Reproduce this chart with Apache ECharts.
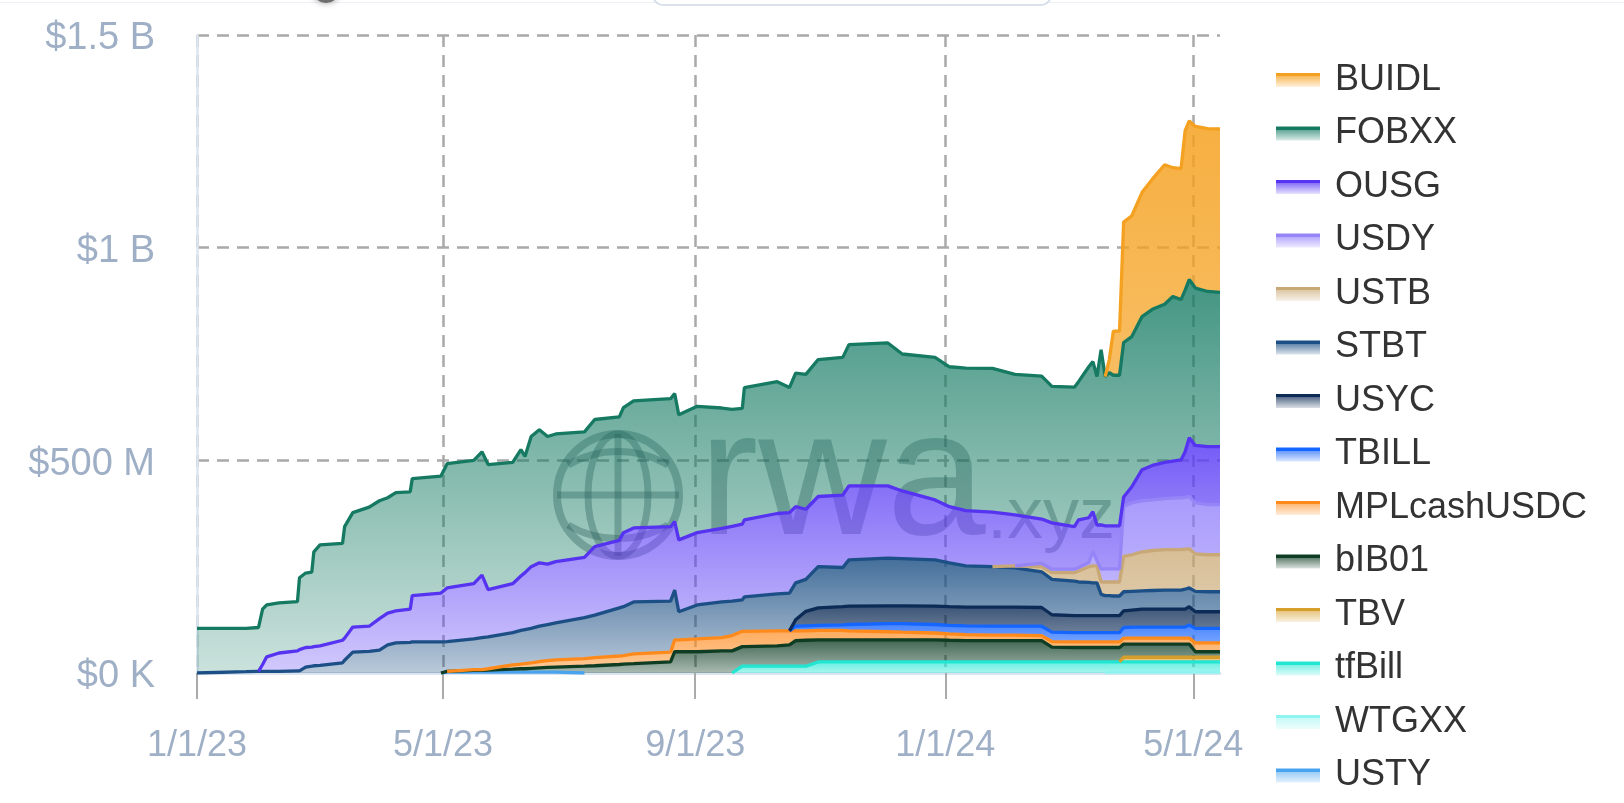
<!DOCTYPE html>
<html>
<head>
<meta charset="utf-8">
<script src="https://cdn.jsdelivr.net/npm/echarts/dist/echarts.min.js"></script>
<style>html,body{margin:0;padding:0;background:#fff;}#c{width:1624px;height:803px;}</style>
</head>
<body>
<div id="c"></div>
<script>
const _ = null;
const dates = ['2023-01-01','2023-01-25','2023-01-31','2023-02-02','2023-02-04','2023-02-10','2023-02-19','2023-02-20','2023-02-23','2023-02-26',
 '2023-02-27','2023-03-02','2023-03-13','2023-03-14','2023-03-18','2023-03-26','2023-03-31','2023-04-04','2023-04-08','2023-04-15',
 '2023-04-16','2023-04-30','2023-05-03','2023-05-16','2023-05-20','2023-05-23','2023-06-04','2023-06-08','2023-06-10','2023-06-13',
 '2023-06-17','2023-06-21','2023-06-25','2023-07-09','2023-07-14','2023-07-26','2023-07-28','2023-08-02','2023-08-20','2023-08-22',
 '2023-08-24','2023-09-02','2023-09-14','2023-09-19','2023-09-24','2023-09-25','2023-10-11','2023-10-17','2023-10-20','2023-10-25',
 '2023-10-31','2023-11-12','2023-11-15','2023-12-04','2023-12-11','2023-12-27','2024-01-03','2024-01-11','2024-01-24','2024-02-04',
 '2024-02-17','2024-02-22','2024-03-04','2024-03-06','2024-03-11','2024-03-13','2024-03-15','2024-03-17','2024-03-19','2024-03-21',
 '2024-03-23','2024-03-26','2024-03-28','2024-04-01','2024-04-06','2024-04-11','2024-04-17','2024-04-21','2024-04-25','2024-04-27',
 '2024-04-29','2024-05-02','2024-05-08','2024-05-14'];

// values in $ millions (null = not yet issued)
const USTY = [_,_,_,_,_,_,_,_,_,_, _,_,_,_,_,_,_,_,_,_, _,0,2,2,2,2,2,2,2,2, 2,2,2,0,_,_,_,_,_,_,
 _,_,_,_,_,_,_,_,_,_, _,_,_,_,_,_,_,_,_,_, _,_,_,_,_,_,_,_,_,_, _,_,_,_,_,_,_,_,_,_, _,_,_,_];
const WTGXX = [_,_,_,_,_,_,_,_,_,_, _,_,_,_,_,_,_,_,_,_, _,_,_,_,_,_,_,_,_,_, _,_,_,_,_,_,_,_,_,_,
 _,_,_,_,_,_,_,_,_,_, _,_,_,_,_,_,_,_,_,_, _,_,_,_,_,_,_,_,0,2, 2,2,2,2,2,2,2,2,2,2, 2,2,2,2];
const tfBill = [_,_,_,_,_,_,_,_,_,_, _,_,_,_,_,_,_,_,_,_, _,_,_,_,_,_,_,_,_,_, _,_,_,_,_,_,_,_,_,_,
 _,_,_,0,16,16,16,16,16,16, 26,26,26,26,26,26,26,26,26,26, 26,26,26,26,26,26,26,26,26,24, 24,24,24,24,24,24,24,24,24,24, 24,24,24,24];
const TBV = [_,_,_,_,_,_,_,_,_,_, _,_,_,_,_,_,_,_,_,_, _,_,_,_,_,_,_,_,_,_, _,_,_,_,_,_,_,_,_,_,
 _,_,_,_,_,_,_,_,_,_, _,_,_,_,_,_,_,_,_,_, _,_,_,_,_,_,_,_,_,_, _,0,11,11,11,11,11,11,11,11, 11,11,11,11];
const bIB01 = [_,_,_,_,_,_,_,_,_,_, _,_,_,_,_,_,_,_,_,_, _,0,2,4,4,5,7,8,8,9, 10,11,12,16,17,20,21,22,26,50,
 50,50,52,52,46,46,48,50,60,61, 52,52,52,52,52,52,51,50,50,50, 50,35,34,34,34,34,34,34,34,34, 34,34,31,31,31,31,31,31,31,31, 31,13,13,13];
const MPLcashUSDC = [_,_,_,_,_,_,_,_,_,_, _,_,_,_,_,_,_,_,_,_, _,_,0,2,2,3,10,11,12,13, 15,16,17,18,19,20,20,23,23,28,
 28,30,31,36,36,36,35,33,23,22, 22,22,21,19,18,16,15,14,13,13, 12,13,13,13,13,13,13,13,13,13, 13,13,14,14,14,14,14,14,14,14, 14,21,21,21];
const TBILL = [_,_,_,_,_,_,_,_,_,_, _,_,_,_,_,_,_,_,_,_, _,_,_,_,_,_,_,_,_,_, _,_,_,_,_,_,_,_,_,_,
 _,_,_,_,_,_,_,0,11,12, 12,13,15,19,20,20,20,21,21,21, 22,22,22,22,22,22,22,22,22,22, 22,22,25,26,26,26,26,26,26,26, 31,34,34,34];
const USYC = [_,_,_,_,_,_,_,_,_,_, _,_,_,_,_,_,_,_,_,_, _,_,_,_,_,_,_,_,_,_, _,_,_,_,_,_,_,_,_,_,
 _,_,_,_,_,_,_,0,15,34, 41,43,43,42,42,43,44,44,45,45, 44,41,40,40,40,40,40,40,40,40, 40,40,39,40,42,42,42,42,42,42, 43,39,39,39];
const STBT = [0,3,4,4,4,4,5,5,14,16, 17,18,24,30,49,51,54,66,71,72, 73,73,70,72,75,75,76,79,80,81, 83,85,87,96,100,113,115,122,120,117,
 66,80,84,81,74,81,87,89,87,75, 97,92,109,112,111,109,103,97,95,92, 84,83,81,79,78,77,77,50,47,47, 46,46,45,44,43,44,45,45,45,47, 44,48,47,47];
const USTB = [_,_,_,_,_,_,_,_,_,_, _,_,_,_,_,_,_,_,_,_, _,_,_,_,_,_,_,_,_,_, _,_,_,_,_,_,_,_,_,_,
 _,_,_,_,_,_,_,_,_,_, _,_,_,_,_,_,_,_,0,5, 12,16,20,26,37,40,40,29,32,32, 33,33,83,86,92,94,95,95,95,94, 92,88,87,87];
const USDY = [_,_,_,_,_,_,_,_,_,_, _,_,_,_,_,_,_,_,_,_, _,_,_,_,_,_,_,_,_,_, _,_,_,_,_,_,_,_,_,_,
 _,_,_,_,_,_,_,_,_,_, _,_,_,_,_,_,_,_,_,0, 8,8,8,8,10,34,12,30,31,31, 31,31,118,122,120,119,120,121,122,122, 123,120,118,118];
const OUSG = [_,_,0,16,34,43,47,50,46,45, 45,46,53,52,59,59,74,75,75,78, 109,115,126,130,147,111,115,128,134,145, 149,142,144,142,161,159,174,174,175,161,
 169,170,173,176,178,181,189,189,179,165, 165,170,174,170,159,141,132,130,128,120, 104,109,100,112,105,93,84,104,101,101, 101,101,22,38,73,81,85,87,89,107, 138,135,136,136];
const FOBXX = [105,102,103,130,122,118,116,169,175,176, 223,237,228,262,269,280,277,271,278,276, 275,275,292,290,290,294,285,297,273,306,
 313,300,300,295,299,290,294,299,301,301, 294,297,283,275,272,311,310,294,314,317, 322,324,332,336,322,335,329,335,338,330,
 336,321,328,325,355,353,349,412,351,360, 354,354,363,353,360,367,372,387,377,380, 372,370,365,363];
const BUIDL = [_,_,_,_,_,_,_,_,_,_, _,_,_,_,_,_,_,_,_,_, _,_,_,_,_,_,_,_,_,_, _,_,_,_,_,_,_,_,_,_,
 _,_,_,_,_,_,_,_,_,_, _,_,_,_,_,_,_,_,_,_, _,_,_,_,_,_,_,_,0,31, 104,104,283,284,292,306,328,303,308,375, 373,380,383,384];

const legendOrder = ['BUIDL','FOBXX','OUSG','USDY','USTB','STBT','USYC','TBILL','MPLcashUSDC','bIB01','TBV','tfBill','WTGXX','USTY'];
const stackOrder = [['USTY',USTY],['WTGXX',WTGXX],['tfBill',tfBill],['TBV',TBV],['bIB01',bIB01],['MPLcashUSDC',MPLcashUSDC],
 ['TBILL',TBILL],['USYC',USYC],['STBT',STBT],['USTB',USTB],['USDY',USDY],['OUSG',OUSG],['FOBXX',FOBXX],['BUIDL',BUIDL]];
const xTickDates = ['2023-01-01','2023-05-01','2023-09-01','2024-01-01','2024-05-01'];
const xMin = '2023-01-01', xMax = '2024-05-14';
const yTicks = [0, 500, 1000, 1500];
const yTickLabels = ['$0 K', '$500 M', '$1 B', '$1.5 B'];

const styles = {
  BUIDL: {line:'#f4a020', rgb:[245,161,31], a:[0.85,0.7]},
  FOBXX: {line:'#167a63', rgb:[19,122,98], a:[0.8,0.22]},
  OUSG: {line:'#5533f0', rgb:[90,60,245], a:[0.85,0.28]},
  USDY: {line:'#9585f6', rgb:[135,115,250], a:[0.72,0.55]},
  USTB: {line:'#c9a878', rgb:[200,165,110], a:[0.72,0.62]},
  STBT: {line:'#1c4f85', rgb:[27,79,132], a:[0.82,0.3]},
  USYC: {line:'#0c2b57', rgb:[11,42,85], a:[0.8,0.6]},
  TBILL: {line:'#1565ff', rgb:[26,102,255], a:[0.8,0.6]},
  MPLcashUSDC: {line:'#ff8a1c', rgb:[255,138,28], a:[0.7,0.45]},
  bIB01: {line:'#0e3d24', rgb:[12,59,34], a:[0.78,0.35]},
  TBV: {line:'#d69f2c', rgb:[217,161,47], a:[0.7,0.5]},
  tfBill: {line:'#22e5d2', rgb:[38,232,213], a:[0.7,0.4]},
  WTGXX: {line:'#8ff3ef', rgb:[142,245,240], a:[0.6,0.4]},
  USTY: {line:'#4aa3ef', rgb:[74,163,239], a:[0.65,0.4]}
};
const rgba = (c, a) => `rgba(${c[0]},${c[1]},${c[2]},${a})`;
const G = echarts.graphic.LinearGradient;
const FONT = '"Liberation Sans", Arial, Helvetica, sans-serif';
const parseLocal = s => { const p = s.split('-').map(Number); return new Date(p[0], p[1]-1, p[2]).getTime(); };

const series = stackOrder.map(([name, arr]) => {
  const s = styles[name];
  return {
    name, type: 'line', stack: 'total', xAxisIndex: 0, showSymbol: false, symbol: 'none', smooth: false,
    silent: true, connectNulls: false,
    lineStyle: {color: s.line, width: 3.3},
    itemStyle: {color: s.line},
    areaStyle: {opacity: 1, color: new G(0,0,0,1,[{offset:0,color:rgba(s.rgb,s.a[0])},{offset:1,color:rgba(s.rgb,s.a[1])}])},
    emphasis: {disabled: true},
    data: dates.map((d, i) => [parseLocal(d), arr[i]])
  };
});

const legendData = legendOrder.map(name => {
  const s = styles[name];
  return {name, icon: 'rect', itemStyle: {borderWidth: 0, color: new G(0,0,0,1,[
    {offset:0,color:s.line},{offset:0.22,color:s.line},
    {offset:0.23,color:rgba(s.rgb,Math.min(1,s.a[0]*0.85))},{offset:1,color:rgba(s.rgb,0.15)}])}};
});

const WM = 'rgba(40,60,70,0.34)';
const cx = 618, cy = 495, R = 61;
const graphic = [
  {type:'line', shape:{x1:0,y1:2.5,x2:1624,y2:2.5}, style:{stroke:'#edf0f5', lineWidth:1}, z:100},
  {type:'circle', shape:{cx:326,cy:-11,r:14}, style:{fill:'#6e6e6e', shadowBlur:6, shadowColor:'rgba(0,0,0,0.35)'}, z:100},
  {type:'rect', shape:{x:653,y:-30,width:398,height:35,r:10}, style:{fill:'#fff', stroke:'#cfd8e6', lineWidth:1.5}, z:100},
  {type:'circle', shape:{cx, cy, r:R}, style:{fill:'none', stroke:WM, lineWidth:8}, z:1},
  {type:'ellipse', shape:{cx, cy, rx:30, ry:R}, style:{fill:'none', stroke:WM, lineWidth:7}, z:1},
  {type:'line', shape:{x1:cx,y1:cy-R,x2:cx,y2:cy+R}, style:{stroke:WM, lineWidth:7}, z:1},
  {type:'line', shape:{x1:cx-R,y1:cy,x2:cx+R,y2:cy}, style:{stroke:WM, lineWidth:7}, z:1},
  {type:'bezierCurve', shape:{x1:cx-50,y1:cy-30,cpx1:cx-20,cpy1:cy-48,x2:cx+50,y2:cy-30,cpx2:cx+20,cpy2:cy-48}, style:{fill:'none',stroke:WM, lineWidth:7}, z:1},
  {type:'bezierCurve', shape:{x1:cx-50,y1:cy+30,cpx1:cx-20,cpy1:cy+48,x2:cx+50,y2:cy+30,cpx2:cx+20,cpy2:cy+48}, style:{fill:'none',stroke:WM, lineWidth:7}, z:1},
  {type:'text', x:699, y:485, style:{text:'rwa', fontSize:178, fontFamily:FONT, fill:WM, verticalAlign:'middle', align:'left'}, z:1},
  {type:'text', x:987, y:518, style:{text:'.xyz', fontSize:72, fontFamily:FONT, fill:WM, verticalAlign:'middle', align:'left'}, z:1}
];

const fmtDate = v => { const d = new Date(v); return (d.getMonth()+1) + '/' + d.getDate() + '/' + String(d.getFullYear()).slice(2); };

const chart = echarts.init(document.getElementById('c'), null, {renderer:'canvas', width:1624, height:803});
chart.setOption({
  animation: false,
  backgroundColor: '#ffffff',
  textStyle: {fontFamily: FONT},
  grid: {left:197, right:404, top:35, bottom:130, containLabel:false},
  legend: {
    orient:'vertical', left:1271, top:55, height:1200, itemWidth:44, itemHeight:14, itemGap:13.5,
    selectedMode:false, data: legendData,
    itemStyle:{borderWidth:0},
    textStyle:{fontSize:36, color:'#333333', fontFamily:FONT, lineHeight:40, padding:[0,0,0,10]}
  },
  xAxis: [{
    type:'time', position:'bottom', min:parseLocal(xMin), max:parseLocal(xMax),
    axisLine:{show:false}, axisTick:{show:false}, axisLabel:{show:false}, splitLine:{show:false}
  }, {
    type:'value', position:'bottom', min:parseLocal(xMin), max:parseLocal(xMax),
    axisLine:{show:true, lineStyle:{color:'#dce4ef', width:3}},
    axisTick:{show:true, length:26, lineStyle:{color:'#aaaaaa', width:2}, customValues: xTickDates.map(parseLocal)},
    axisLabel:{fontSize:36, color:'#9eafc6', margin:55, fontFamily:FONT,
      customValues: xTickDates.map(parseLocal), formatter: fmtDate},
    splitLine:{show:true, lineStyle:{color:'#a9a9a9', width:2.5, type:[12,8]}}
  }],
  yAxis: {
    type:'value', min:0, max:1500, interval:500,
    axisLine:{show:true, lineStyle:{color:'#dde5f0', width:2.5}},
    axisTick:{show:false},
    axisLabel:{fontSize:38, color:'#9eafc6', margin:42, fontFamily:FONT,
      formatter: v => { const i = yTicks.indexOf(v); return i >= 0 ? '{s| }\n{t|' + yTickLabels[i] + '}' : ''; },
      rich: {
        s: {fontSize:4, lineHeight:8},
        t: {fontSize:38, lineHeight:44, color:'#9eafc6', fontFamily:FONT}
      }},
    splitLine:{show:true, lineStyle:{color:'#a9a9a9', width:2.5, type:[12,8]}}
  },
  graphic: graphic,
  series: series
});
</script>
</body>
</html>
